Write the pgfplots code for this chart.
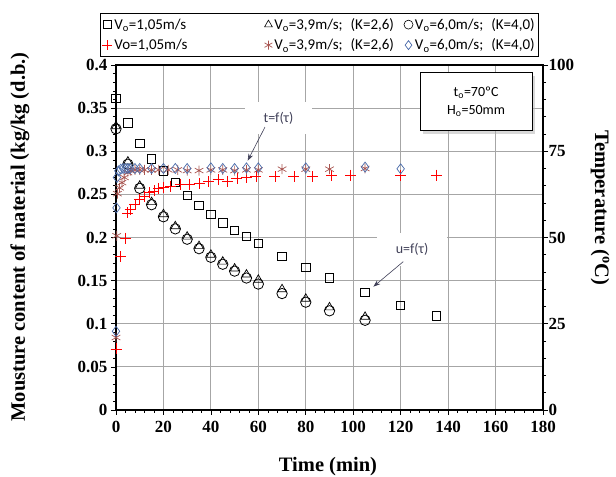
\documentclass[border=0pt]{standalone}
\usepackage{fontspec}
\setmainfont{Liberation Serif}
\newfontfamily\carlito{Carlito}
\usepackage{pgfplots}
\pgfplotsset{compat=1.18}
\usetikzlibrary{arrows.meta,shadows}
\definecolor{gridgray}{HTML}{A6A6A6}
\definecolor{astcol}{HTML}{A85450}
\definecolor{diacol}{HTML}{4A6BAA}
\definecolor{annot}{HTML}{404058}

\pgfplotsset{
  base/.style={
    scale only axis, width=427pt, height=345pt,
    xmin=0, xmax=180,
    xticklabels={}, yticklabels={},
    tick align=outside, major tick length=5pt, minor tick length=3pt,
    tick style={black, line width=0.6pt},
    axis line style={black, line width=1.5pt},
    clip=false,
  },
}

\begin{document}
\begin{tikzpicture}
\begin{axis}[base, name=main,
  ymin=0, ymax=0.4,
  xtick={0,20,40,60,80,100,120,140,160,180},
  minor x tick num=4,
  ytick={0,0.05,0.1,0.15,0.2,0.25,0.3,0.35,0.4},
  minor y tick num=4,
  grid=major, major grid style={gridgray, line width=0.8pt},
  xtick pos=bottom, ytick pos=left,
]
  % white label boxes over the grid
  \node[fill=white, inner sep=0pt, minimum width=67pt, minimum height=32pt,
        font=\carlito\fontsize{14}{17}\selectfont, text=annot]
        at (axis cs:68.5,0.338) {t=f(τ)};
  \node[fill=white, inner sep=0pt, minimum width=70pt, minimum height=33pt,
        font=\carlito\fontsize{14}{17}\selectfont, text=annot]
        at (axis cs:124.8,0.1866) {u=f(τ)};
  \draw[annot, line width=0.6pt, -{Stealth[length=7pt,width=5pt]}]
        (axis cs:62.8,0.328) -- (axis cs:55.5,0.289);
  \draw[annot, line width=0.6pt, -{Stealth[length=7pt,width=5pt]}]
        (axis cs:121.1,0.172) -- (axis cs:108.5,0.143);
  \node[draw=black, line width=0.8pt, fill=white,
        drop shadow={shadow xshift=3pt, shadow yshift=-3pt, fill=gray!60},
        minimum width=112pt, minimum height=58pt, align=center,
        font=\carlito\fontsize{14}{18}\selectfont]
        at (axis cs:151.8,0.3576) {t\textsubscript{o}=70ºC\\H\textsubscript{o}=50mm};

  % V=1,05 m/s moisture
  \addplot[only marks, mark=square, mark size=4.2pt, black, mark options={line width=0.8pt}]
    table {
      0 0.361
      5 0.333
      10 0.309
      15 0.291
      20 0.277
      25 0.264
      30 0.249
      35 0.237
      40 0.227
      45 0.217
      50 0.208
      55 0.201
      60 0.193
      70 0.178
      80 0.165
      90 0.153
      105 0.136
      120 0.121
      135 0.109
    };
  % V=3,9 m/s moisture
  \addplot[only marks, mark=triangle, mark size=5pt, black, mark options={line width=0.7pt}]
    table {
      0 0.329
      5 0.288
      10 0.260
      15 0.241
      20 0.227
      25 0.213
      30 0.201
      35 0.190
      40 0.180
      45 0.172
      50 0.164
      55 0.157
      60 0.151
      70 0.140
      80 0.129
      90 0.119
      105 0.108
    };
  % V=6,0 m/s moisture
  \addplot[only marks, mark=o, mark size=5.2pt, black, mark options={line width=0.8pt}]
    table {
      0 0.326
      5 0.285
      10 0.257
      15 0.238
      20 0.224
      25 0.210
      30 0.198
      35 0.187
      40 0.177
      45 0.169
      50 0.161
      55 0.153
      60 0.146
      70 0.135
      80 0.125
      90 0.115
      105 0.104
    };
\end{axis}

\begin{axis}[base,
  ymin=0, ymax=100,
  axis x line=none, axis y line*=right,
  ytick={0,25,50,75,100},
  minor y tick num=4,
  legend columns=3,
  legend cell align=left,
  legend image code/.code={\draw[mark repeat=2,mark phase=2,#1] plot coordinates {(0pt,0pt)(5pt,0pt)(10pt,0pt)};},
  legend style={at={(-0.0375,1.1507)}, anchor=north west,
    draw=black, line width=0.8pt, fill=white,
    font=\carlito\fontsize{15}{18}\selectfont,
    inner xsep=2pt, inner ysep=3pt, row sep=4pt,
    /tikz/column 2/.style={column sep=75pt},
    /tikz/column 4/.style={column sep=8pt}},
]
  \addlegendimage{only marks, mark=square, mark size=4pt, black, mark options={line width=0.6pt}}
  \addlegendentry{V\textsubscript{o}=1,05m/s}
  \addlegendimage{only marks, mark=triangle, mark size=4.5pt, black, mark options={line width=0.6pt}}
  \addlegendentry{V\textsubscript{o}=3,9m/s;\hspace{8pt}(K=2,6)}
  \addlegendimage{only marks, mark=o, mark size=4.5pt, black, mark options={line width=0.6pt}}
  \addlegendentry{V\textsubscript{o}=6,0m/s;\hspace{8pt}(K=4,0)}
  \addlegendimage{only marks, mark=+, mark size=5pt, red, mark options={draw=red, line width=0.8pt}}
  \addlegendentry{Vo=1,05m/s}
  \addlegendimage{only marks, mark=asterisk, mark size=4.5pt, astcol, mark options={draw=astcol, line width=0.7pt}}
  \addlegendentry{V\textsubscript{o}=3,9m/s;\hspace{8pt}(K=2,6)}
  \addlegendimage{only marks, mark=diamond, mark size=4.5pt, diacol, mark options={draw=diacol, line width=0.7pt}}
  \addlegendentry{V\textsubscript{o}=6,0m/s;\hspace{8pt}(K=4,0)}

  % V=1,05 m/s temperature
  \addplot[forget plot, only marks, mark=+, mark size=5.5pt, color=red, mark options={red, line width=0.8pt}]
    table {
      0 17.7
      2 44.4
      4 49.8
      5 57.1
      6 58.2
      8 59.6
      10 61.0
      12 62.0
      14 63.0
      16 63.5
      18 64.2
      20 64.6
      23 64.9
      27 65.4
      31 65.4
      35 65.7
      39 66.2
      43 66.7
      47 66.3
      51 67.2
      55 67.5
      59 67.8
      67 67.6
      75 67.6
      83 67.6
      91 68.1
      99 68.1
      120 68.1
      135 68.1
    };
  % V=3,9 m/s temperature
  \addplot[forget plot, only marks, mark=asterisk, mark size=5pt, color=astcol, mark options={astcol, line width=0.7pt}]
    table {
      0 21.0
      0.3 50.5
      0.6 62.7
      1.5 64.4
      2.5 65.9
      3.5 67.4
      5 68.8
      6 69.4
      8 69.6
      10 69.6
      12 69.6
      15 69.6
      18 69.6
      22 69.6
      26 69.6
      30 69.4
      35 69.4
      40 69.6
      45 69.6
      50 69.4
      55 69.6
      60 69.6
      70 69.8
      80 69.8
      90 69.8
      105 70.0
    };
  % V=6,0 m/s temperature
  \addplot[forget plot, only marks, mark=diamond, mark size=5pt, color=diacol, mark options={diacol, line width=0.7pt}]
    table {
      0 22.8
      0.2 58.6
      0.4 67.4
      1 69.3
      2 69.8
      3 70.0
      4 70.0
      5 70.0
      6 70.0
      8 70.0
      10 70.0
      15 70.0
      20 70.0
      25 70.0
      30 70.0
      40 70.2
      45 70.0
      50 70.0
      55 70.2
      60 70.2
      80 70.2
      105 70.4
      120 69.9
    };
\end{axis}

% tick labels, bold serif
\foreach \v in {0,20,40,60,80,100,120,140,160,180}
  \node[anchor=north, font=\fontsize{17}{19}\selectfont\bfseries]
    at ([shift={({\v*2.372222pt},{-8pt})}]main.south west) {\v};
\foreach \v in {0,0.05,0.1,0.15,0.2,0.25,0.3,0.35,0.4}
  \node[anchor=east, font=\fontsize{17}{19}\selectfont\bfseries]
    at ([shift={({-5pt},{\v*862.5pt})}]main.south west) {\v};
\foreach \v in {0,25,50,75,100}
  \node[anchor=west, font=\fontsize{17}{19}\selectfont\bfseries]
    at ([shift={({429pt},{\v*3.45pt})}]main.south west) {\v};

\node[rotate=90, font=\fontsize{20.5}{22}\selectfont\bfseries]
  at ([shift={(-96pt,173pt)}]main.south west) {Mousture content of material (kg/kg (d.b.)};
\node[rotate=-90, font=\fontsize{20.5}{22}\selectfont\bfseries]
  at ([shift={(484pt,202pt)}]main.south west) {Temperature (\textsuperscript{o}C)};
\node[font=\fontsize{20.5}{22}\selectfont\bfseries]
  at ([shift={(212pt,-57pt)}]main.south west) {Time (min)};

\pgfresetboundingbox
\useasboundingbox ([shift={(-116pt,-67pt)}]main.south west) rectangle ([shift={(73pt,65pt)}]main.north east);
\end{tikzpicture}
\end{document}
